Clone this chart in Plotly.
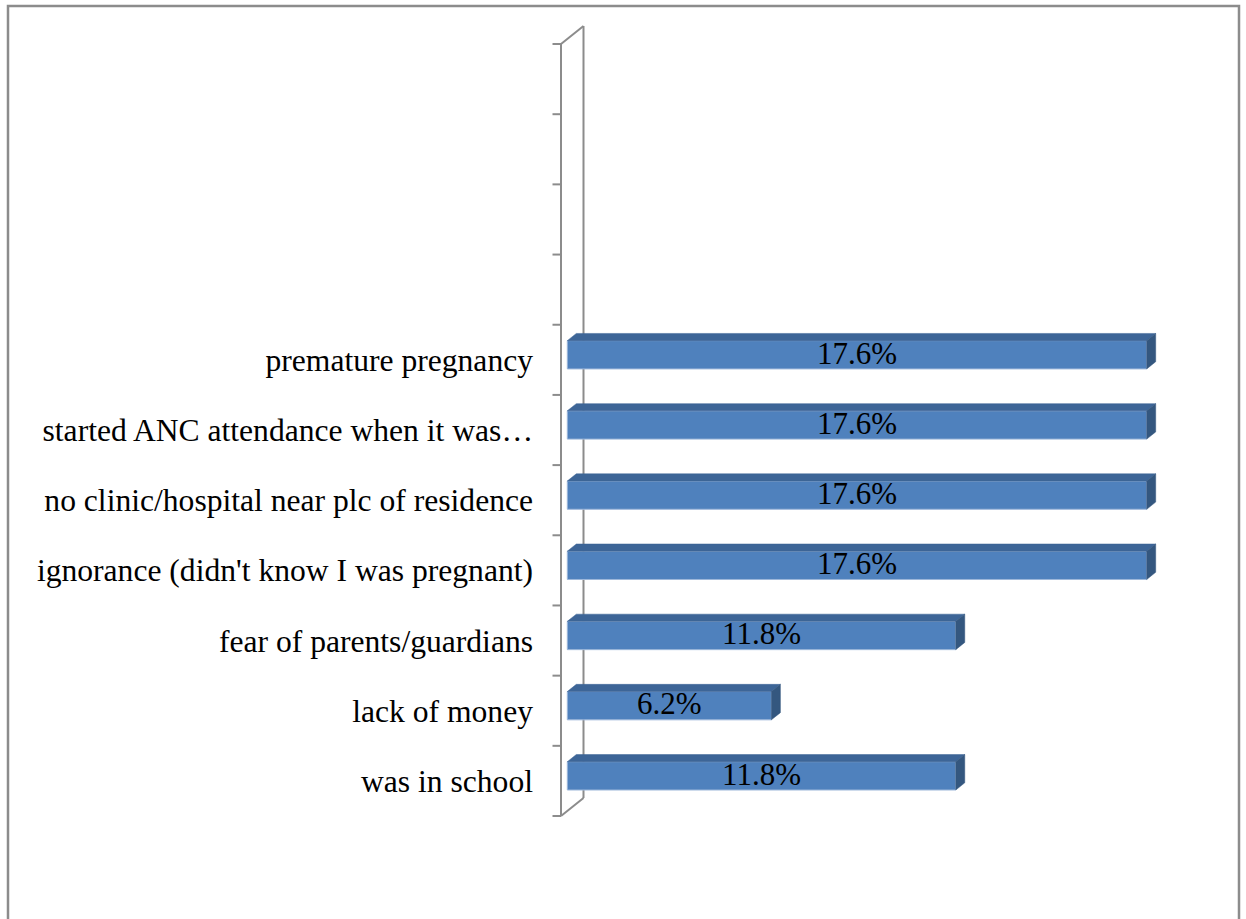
import plotly.graph_objects as go

# Reasons for late antenatal care, bottom to top
reasons = [
    "was in school",
    "lack of money",
    "fear of parents/guardians",
    "ignorance (didn't know I was pregnant)",
    "no clinic/hospital near plc of residence",
    "started ANC attendance when it was…",
    "premature pregnancy",
]
shares = [11.8, 6.2, 11.8, 17.6, 17.6, 17.6, 17.6]

# Category slots on the axis (the upper ones stay empty)
AXIS_SLOTS = 11

# ---- page geometry (pixels) ----
FIG_W, FIG_H = 1246, 919
PLOT_LEFT = 545
WALL_X_PX = 561          # front edge of the side wall
WALL_BOTTOM_PX = 816     # lowest category boundary
SLOT_PX = 70.18          # height of one category slot
VALUE_PX = 32.92         # pixels per percentage point

# 3D depth vector of the wall, in pixels (right, up)
DEPTH_PX = (22.5, 18.0)
DXV = DEPTH_PX[0] / VALUE_PX
DYK = DEPTH_PX[1] / SLOT_PX

BAR_FRONT = 0.28         # depth of bar front face (0 = wall front, 1 = wall back)
BAR_BACK = 0.68
BAR_H = 0.403            # bar thickness in category units

FRONT = "#4F81BD"
TOP = "#3D6597"
SIDE = "#34577F"
GRAY = "#8C8C8C"
FONT = "Liberation Serif"

x_range = [(PLOT_LEFT - WALL_X_PX) / VALUE_PX, (FIG_W - WALL_X_PX) / VALUE_PX]
y_range = [(WALL_BOTTOM_PX - FIG_H) / SLOT_PX - 0.5, WALL_BOTTOM_PX / SLOT_PX - 0.5]


def proj(v, k, d):
    """Project a (value, category, depth) point onto the chart plane."""
    return v + d * DXV, k + d * DYK


fig = go.Figure()

# top and side faces of each bar
for k, v in enumerate(shares):
    yt = k + BAR_H / 2
    yb = k - BAR_H / 2
    top = [proj(0, yt, BAR_FRONT), proj(v, yt, BAR_FRONT), proj(v, yt, BAR_BACK), proj(0, yt, BAR_BACK)]
    side = [proj(v, yb, BAR_FRONT), proj(v, yt, BAR_FRONT), proj(v, yt, BAR_BACK), proj(v, yb, BAR_BACK)]
    for pts, col in ((top, TOP), (side, SIDE)):
        xs = [p[0] for p in pts] + [pts[0][0]]
        ys = [p[1] for p in pts] + [pts[0][1]]
        fig.add_trace(go.Scatter(
            x=xs, y=ys, mode="lines", fill="toself", fillcolor=col,
            line=dict(color=col, width=0.5), hoverinfo="skip", showlegend=False,
        ))

# front faces
front_y = [proj(0, k, BAR_FRONT)[1] for k in range(len(shares))]
base_x = proj(0, 0, BAR_FRONT)[0]
fig.add_trace(go.Bar(
    x=shares, y=front_y, base=base_x, orientation="h", width=BAR_H,
    marker=dict(color=FRONT, line=dict(color="#9DB7DA", width=1)),
    textposition="none", hoverinfo="skip", showlegend=False,
))

# value labels
fig.add_trace(go.Scatter(
    x=[base_x + v / 2 for v in shares],
    y=[y - 0.015 for y in front_y],
    mode="text",
    text=[f"{v:.1f}%" for v in shares],
    textfont=dict(family=FONT, size=31, color="#000000"),
    hoverinfo="skip", showlegend=False,
))

shapes = []
lo, hi = -0.5, AXIS_SLOTS - 0.5
# side wall outline
for a, b in (
    ((0, lo, 0), (0, hi, 0)),
    ((0, lo, 1), (0, hi, 1)),
    ((0, lo, 0), (0, lo, 1)),
    ((0, hi, 0), (0, hi, 1)),
):
    x0, y0 = proj(*a)
    x1, y1 = proj(*b)
    shapes.append(dict(type="line", xref="x", yref="y", x0=x0, y0=y0, x1=x1, y1=y1,
                       line=dict(color=GRAY, width=2), layer="below"))
# category boundary ticks
tick_len = 8.5 / VALUE_PX
for i in range(AXIS_SLOTS + 1):
    yb = i - 0.5
    shapes.append(dict(type="line", xref="x", yref="y", x0=-tick_len, y0=yb, x1=0, y1=yb,
                       line=dict(color=GRAY, width=2), layer="below"))

# outer chart border
plot_w = FIG_W - PLOT_LEFT


def px_x(p):
    return (p - PLOT_LEFT) / plot_w


def px_y(p):
    return 1 - p / FIG_H


shapes.append(dict(type="rect", xref="paper", yref="paper",
                   x0=px_x(8), y0=px_y(6), x1=px_x(1239), y1=px_y(935),
                   line=dict(color=GRAY, width=2.5), fillcolor="rgba(0,0,0,0)"))

fig.update_layout(
    width=FIG_W, height=FIG_H,
    margin=dict(l=PLOT_LEFT, r=0, t=0, b=0, pad=0),
    paper_bgcolor="white", plot_bgcolor="white",
    shapes=shapes,
    hovermode=False,
    xaxis=dict(range=x_range, visible=False, fixedrange=True),
    yaxis=dict(
        range=y_range, fixedrange=True,
        tickmode="array", tickvals=list(range(len(reasons))), ticktext=reasons,
        ticks="", showgrid=False, zeroline=False, showline=False,
        ticklabelstandoff=11,
        tickfont=dict(family=FONT, size=31.6, color="#000000"),
    ),
)

fig.write_html("out.html", config={"displayModeBar": False})
